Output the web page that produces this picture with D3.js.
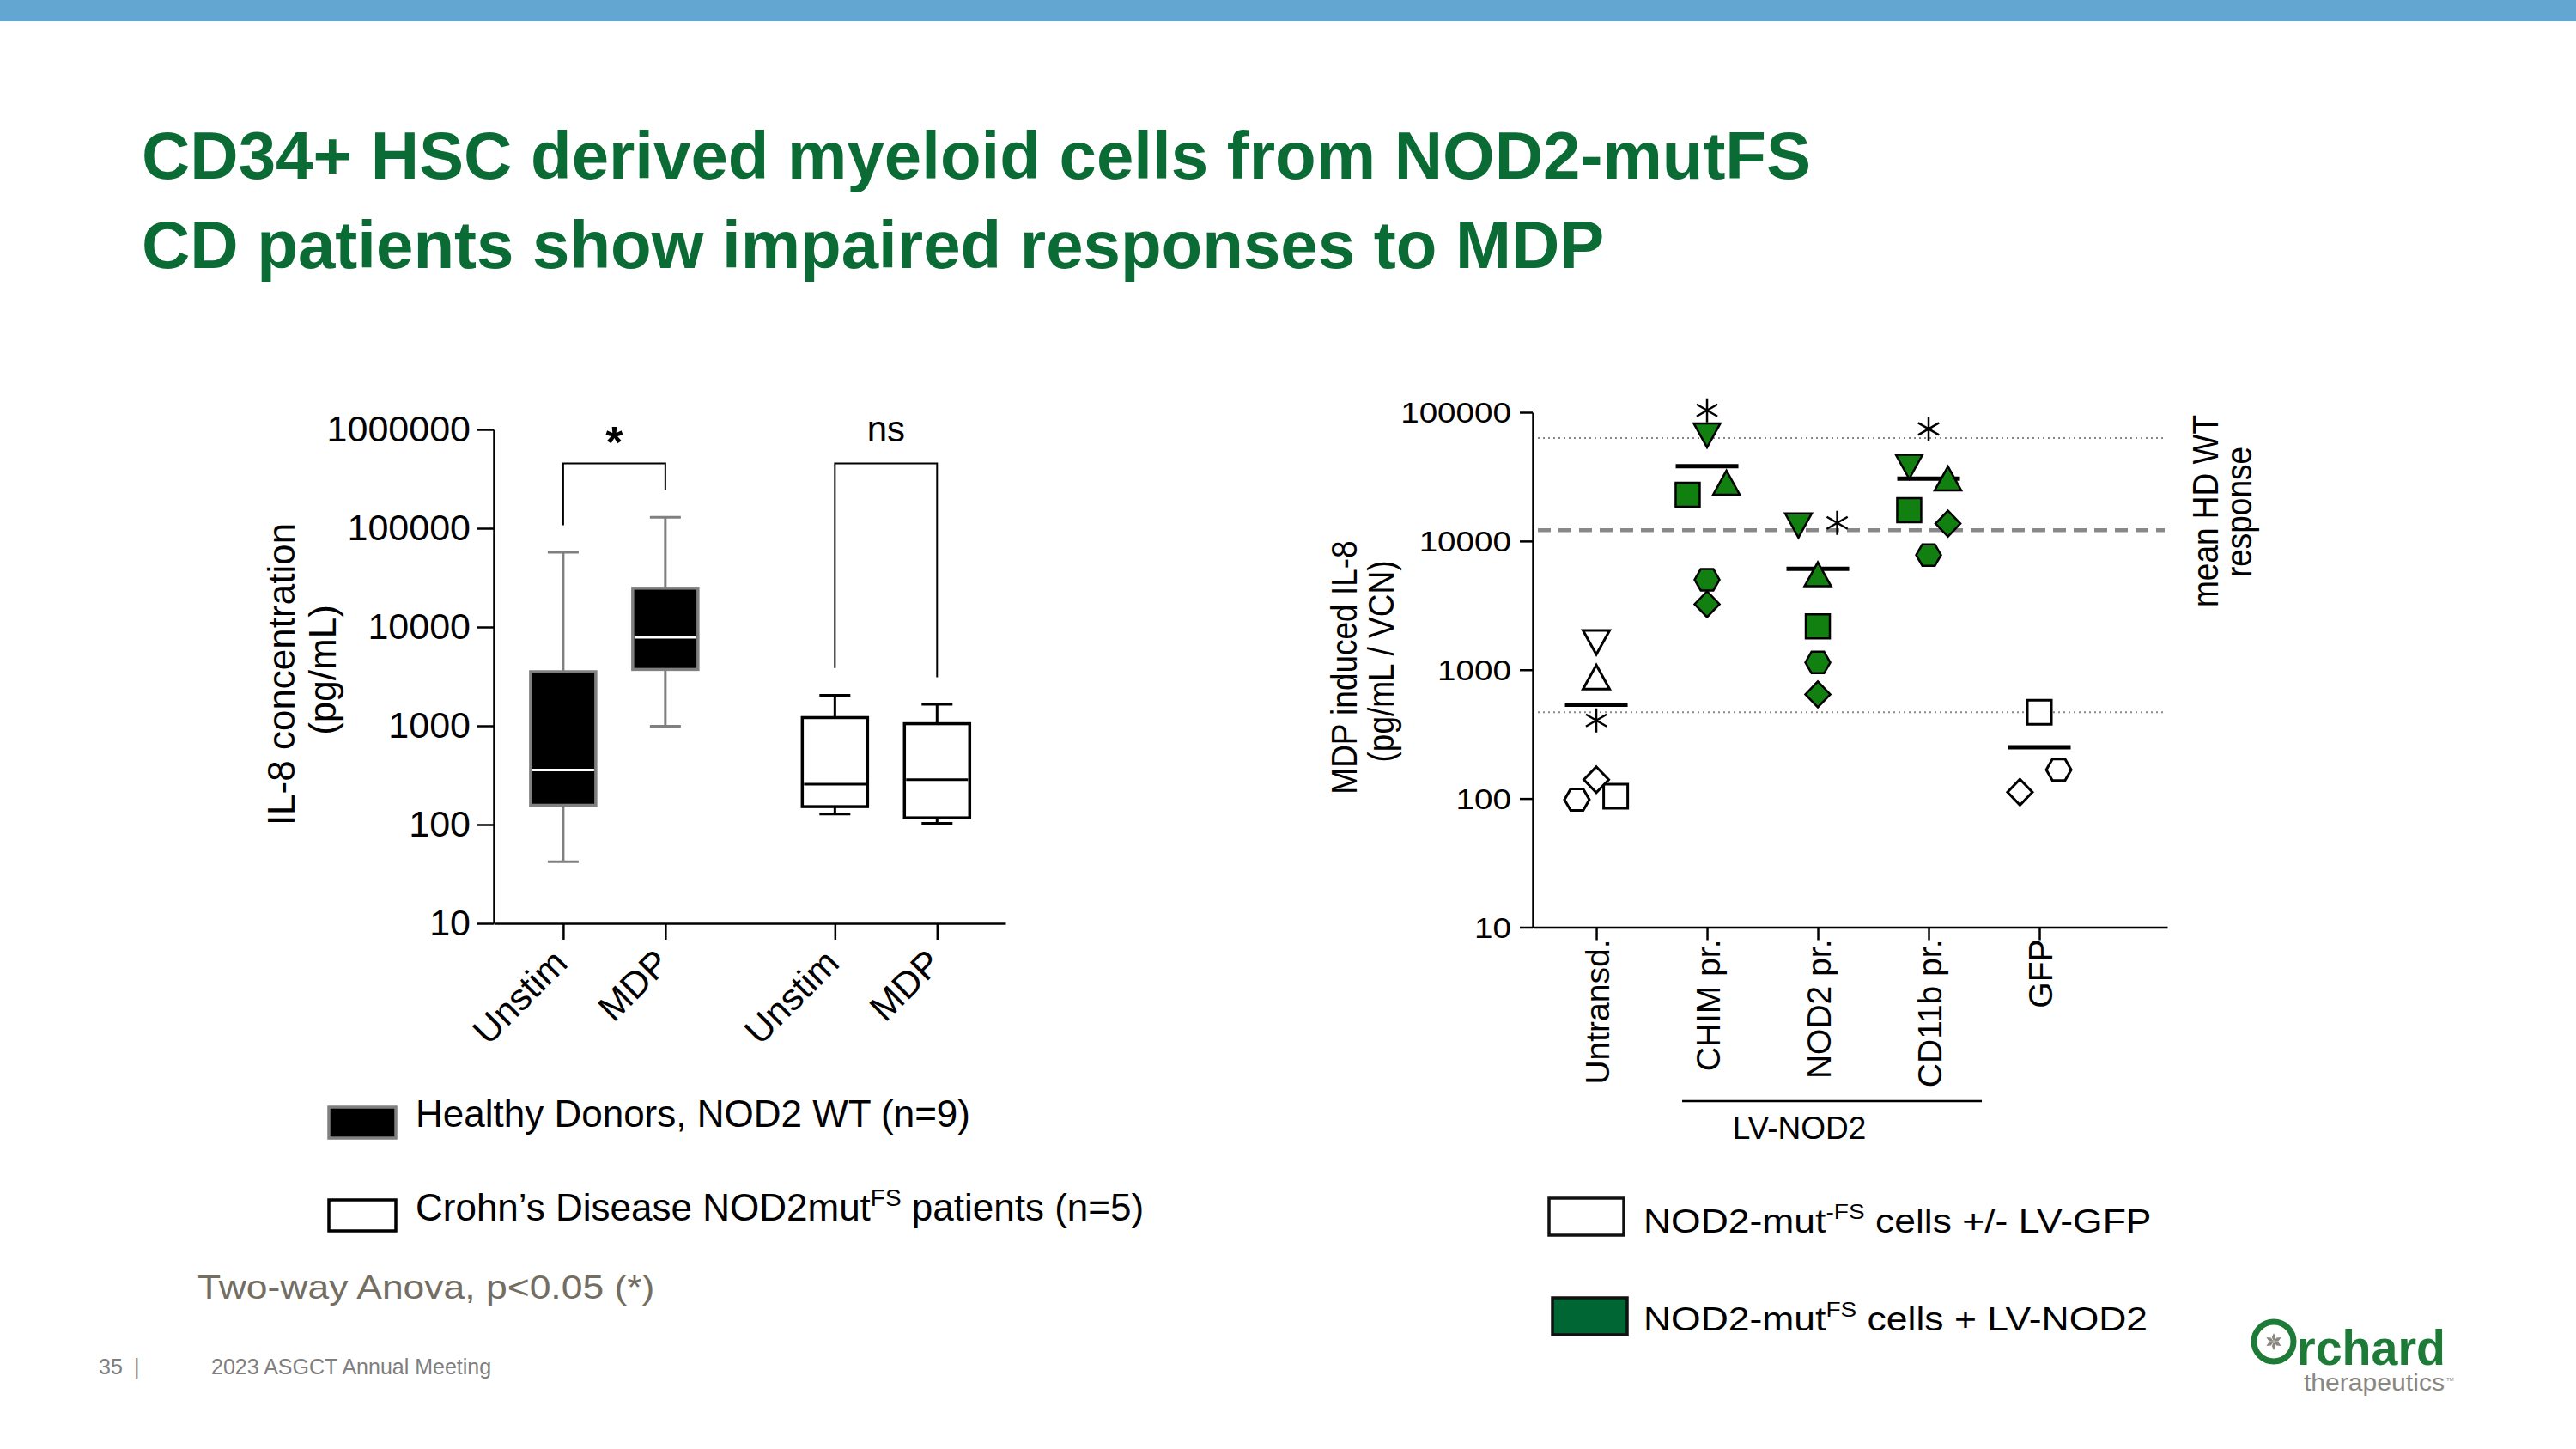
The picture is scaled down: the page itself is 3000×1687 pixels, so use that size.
<!DOCTYPE html>
<html><head><meta charset="utf-8">
<script src="https://cdn.jsdelivr.net/npm/d3@7"></script>
<style>
html,body{margin:0;padding:0;background:#fff}
svg{display:block}
text{font-family:"Liberation Sans",Arial,Helvetica,sans-serif}
</style>
</head><body>
<svg id="c" width="3000" height="1687"></svg>
<script>
// ---------------- DATA ----------------
const titleLines = ["CD34+ HSC derived myeloid cells from NOD2-mutFS", "CD patients show impaired responses to MDP"];

// Left panel: box plots of IL-8 concentration (pg/mL)
const boxGroups = ["Healthy Donors, NOD2 WT (n=9)", "Crohn’s Disease NOD2mut"];
const conditions = ["Unstim", "MDP"];
const boxWhiskerLow  = [[42, 990], [128, 103]];
const boxQ1          = [[157, 3720], [152, 117]];
const boxMedian      = [[356, 7870], [256, 284]];
const boxQ3          = [[3530, 24700], [1210, 1050]];
const boxWhiskerHigh = [[57000, 129000], [2040, 1650]];
const leftTicks = [10, 100, 1000, 10000, 100000, 1000000];
const sigLabels = ["*", "ns"];

// Right panel: MDP induced IL-8 (pg/mL / VCN), one symbol per donor
const rightCategories = ["Untransd.", "CHIM pr.", "NOD2 pr.", "CD11b pr.", "GFP"];
const rightTicks = [10, 100, 1000, 10000, 100000];
const donorSymbols = ["downTriangle", "upTriangle", "square", "hexagon", "diamond", "asterisk"];
const untransdValues = [1630, 877, 104, 98, 140, 404];
const chimValues     = [66100, 28400, 22900, 5000, 3230, 103500];
const nod2Values     = [13200, 5520, 2170, 1138, 644, 13840];
const cd11bValues    = [37700, 30600, 17380, 7780, 13650, 74300];
const gfpValues      = [null, null, 467, 167, 112, null];
// side-by-side column (-1 left, 0 centre, 1 right) of each donor within a category
const untransdColumn = [0, 0, 1, -1, 0, 0];
const chimColumn     = [0, 1, -1, 0, 0, 0];
const nod2Column     = [-1, 0, 0, 0, 0, 1];
const cd11bColumn    = [-1, 1, -1, 0, 1, 0];
const gfpColumn      = [0, 0, 0, 1, -1, 0];
const groupMeans = [535, 38200, 6080, 30500, 250];
const categoryTransduction = ["GFP", "NOD2", "NOD2", "NOD2", "GFP"];
const hdMeanResponse = 12160;
const hdResponseRange = [467, 63100];
const lvNod2Span = ["CHIM pr.", "CD11b pr."];

// ---------------- DRAWING ----------------
const FONT = "Liberation Sans, Arial, Helvetica, sans-serif";
const SX = 1.17; // horizontal stretch of the pasted right-hand figure
const GREEN_PT = "#118011";
const GREEN_LEG = "#006633";
const svg = d3.select("#c");
svg.append("rect").attr("width", 3000).attr("height", 1687).attr("fill", "#fff");
svg.append("rect").attr("x", 0).attr("y", 0).attr("width", 3000).attr("height", 25).attr("fill", "#62a6d1");

svg.append("g").selectAll("text").data(titleLines).join("text")
  .attr("x", 165).attr("y", (d, i) => 208 + i * 104)
  .attr("font-size", 78).attr("font-weight", "bold").attr("fill", "#0b6b35")
  .text(d => d);

function styleAxis(g, fs) {
  g.attr("font-family", FONT).attr("font-size", fs);
  g.selectAll("path,line").attr("stroke", "#000").attr("stroke-width", 2.5);
  g.selectAll("text").attr("fill", "#000");
}

// ---------- Left panel ----------
const yL = d3.scaleLog().domain([10, 1e6]).range([1075, 500]);
const GROUP_GAP = 2.66;
const xL = d3.scaleLinear().domain([-0.68, 4.33]).range([575, 1171]);
const slot = (gi, ci) => gi * GROUP_GAP + ci;
const gL = svg.append("g");

const ayL = gL.append("g").attr("transform", "translate(575,0)")
  .call(d3.axisLeft(yL).tickValues(leftTicks).tickFormat(d3.format("d")).tickSize(19).tickSizeOuter(0).tickPadding(8));
styleAxis(ayL, 43);

const xTickVals = [], xTickLab = [];
boxGroups.forEach((g, gi) => conditions.forEach((c, ci) => { xTickVals.push(slot(gi, ci)); xTickLab.push(c); }));
const axL = gL.append("g").attr("transform", "translate(0,1075)")
  .call(d3.axisBottom(xL).tickValues(xTickVals).tickFormat((d, i) => xTickLab[i]).tickSize(19).tickSizeOuter(0));
styleAxis(axL, 43);
axL.selectAll("text").attr("text-anchor", "end").attr("x", 0).attr("y", 0).attr("dy", "0.35em")
  .attr("transform", "translate(-4,38) rotate(-45)");

// boxes
const boxes = [];
boxGroups.forEach((g, gi) => conditions.forEach((c, ci) => boxes.push({
  gi, ci, lo: boxWhiskerLow[gi][ci], q1: boxQ1[gi][ci], med: boxMedian[gi][ci], q3: boxQ3[gi][ci], hi: boxWhiskerHigh[gi][ci]
})));
const BW = 76, CAP = 18;
const bg = gL.append("g");
boxes.forEach(b => {
  const cx = xL(slot(b.gi, b.ci));
  const stroke = b.gi === 0 ? "#808080" : "#000";
  const fill = b.gi === 0 ? "#000" : "#fff";
  const medC = b.gi === 0 ? "#fff" : "#000";
  const g = bg.append("g");
  g.append("line").attr("x1", cx).attr("x2", cx).attr("y1", yL(b.lo)).attr("y2", yL(b.q1)).attr("stroke", stroke).attr("stroke-width", 3);
  g.append("line").attr("x1", cx).attr("x2", cx).attr("y1", yL(b.q3)).attr("y2", yL(b.hi)).attr("stroke", stroke).attr("stroke-width", 3);
  g.append("line").attr("x1", cx - CAP).attr("x2", cx + CAP).attr("y1", yL(b.lo)).attr("y2", yL(b.lo)).attr("stroke", stroke).attr("stroke-width", 3);
  g.append("line").attr("x1", cx - CAP).attr("x2", cx + CAP).attr("y1", yL(b.hi)).attr("y2", yL(b.hi)).attr("stroke", stroke).attr("stroke-width", 3);
  g.append("rect").attr("x", cx - BW / 2).attr("width", BW).attr("y", yL(b.q3)).attr("height", yL(b.q1) - yL(b.q3))
    .attr("fill", fill).attr("stroke", stroke).attr("stroke-width", 3.5);
  g.append("line").attr("x1", cx - BW / 2 + 2).attr("x2", cx + BW / 2 - 2).attr("y1", yL(b.med)).attr("y2", yL(b.med)).attr("stroke", medC).attr("stroke-width", 3);
});

// significance brackets
const BRACKET_TOP = 454000, LEG_FACTOR = 1.88;
boxGroups.forEach((g, gi) => {
  const x0 = xL(slot(gi, 0)), x1 = xL(slot(gi, 1));
  const yTop = yL(BRACKET_TOP);
  const y0 = yL(boxWhiskerHigh[gi][0] * LEG_FACTOR), y1 = yL(boxWhiskerHigh[gi][1] * LEG_FACTOR);
  gL.append("path").attr("d", `M${x0},${y0}V${yTop}H${x1}V${y1}`).attr("fill", "none").attr("stroke", "#000").attr("stroke-width", 2);
  const lab = sigLabels[gi];
  gL.append("text").attr("x", (x0 + x1) / 2).attr("y", lab === "*" ? 533 : 514)
    .attr("text-anchor", "middle").attr("font-size", lab === "*" ? 52 : 42)
    .attr("font-weight", lab === "*" ? "bold" : "normal").text(lab);
});

// left y title
gL.append("text").attr("transform", "translate(343,785) rotate(-90)").attr("text-anchor", "middle").attr("font-size", 44).text("IL-8 concentration");
gL.append("text").attr("transform", "translate(391,780) rotate(-90)").attr("text-anchor", "middle").attr("font-size", 44).text("(pg/mL)");

// left legend
const legL = svg.append("g");
[{y: 1289, fill: "#000", stroke: "#808080"}, {y: 1397, fill: "#fff", stroke: "#000"}].forEach((s, i) => {
  legL.append("rect").attr("x", 383).attr("y", s.y).attr("width", 78).attr("height", 36).attr("fill", s.fill).attr("stroke", s.stroke).attr("stroke-width", 3.5);
});
legL.append("text").attr("x", 484).attr("y", 1312).attr("font-size", 44).text(boxGroups[0]);
const t2 = legL.append("text").attr("x", 484).attr("y", 1421).attr("font-size", 44);
t2.append("tspan").text(boxGroups[1]);
t2.append("tspan").attr("font-size", 28).attr("dy", -17).text("FS");
t2.append("tspan").attr("dy", 17).text(" patients (n=5)");

svg.append("text").attr("transform", `translate(230,1512) scale(${SX},1)`).attr("font-size", 38).attr("fill", "#736d62").text("Two-way Anova, p<0.05 (*)");

// ---------- Right panel ----------
const yR = d3.scaleLog().domain([10, 1e5]).range([1079.5, 480]);
const xR = d3.scaleLinear().domain([-0.574, 5.155]).range([1785, 2524]);
const gR = svg.append("g");

// reference lines
gR.selectAll("line.range").data(hdResponseRange).join("line").attr("class", "range")
  .attr("x1", 1791).attr("x2", 2521).attr("y1", d => yR(d)).attr("y2", d => yR(d))
  .attr("stroke", "#8a8a8a").attr("stroke-width", 2).attr("stroke-dasharray", "2,4");
gR.append("line").attr("x1", 1791).attr("x2", 2521).attr("y1", yR(hdMeanResponse)).attr("y2", yR(hdMeanResponse))
  .attr("stroke", "#888").attr("stroke-width", 4.5).attr("stroke-dasharray", "15,9");

const ayR = gR.append("g").attr("transform", "translate(1785,0)")
  .call(d3.axisLeft(yR).tickValues(rightTicks).tickFormat(d3.format("d")).tickSize(15).tickSizeOuter(0));
styleAxis(ayR, 33);
ayR.selectAll("text").attr("x", -25 / SX).attr("transform", `scale(${SX},1)`).attr("dy", "0.36em");

const axR = gR.append("g").attr("transform", "translate(0,1079.5)")
  .call(d3.axisBottom(xR).tickValues(d3.range(rightCategories.length)).tickFormat(i => rightCategories[i]).tickSize(15).tickSizeOuter(0));
styleAxis(axR, 39);
axR.selectAll("text").attr("text-anchor", "end").attr("x", -14).attr("y", 0).attr("dy", "0.36em")
  .attr("transform", "rotate(-90)");

// LV-NOD2 bracket
const spanX0 = xR(rightCategories.indexOf(lvNod2Span[0])) - 29;
const spanX1 = xR(rightCategories.indexOf(lvNod2Span[1])) + 62;
gR.append("line").attr("x1", spanX0).attr("x2", spanX1).attr("y1", 1282).attr("y2", 1282).attr("stroke", "#000").attr("stroke-width", 2.5);
gR.append("text").attr("x", (spanX0 + spanX1) / 2 - 38).attr("y", 1326).attr("text-anchor", "middle").attr("font-size", 37).text("LV-NOD2");

// right titles
gR.append("text").attr("transform", `translate(1580,777) scale(${SX},1) rotate(-90)`).attr("text-anchor", "middle").attr("font-size", 37).text("MDP induced IL-8");
gR.append("text").attr("transform", `translate(1623,770) scale(${SX},1) rotate(-90)`).attr("text-anchor", "middle").attr("font-size", 37).text("(pg/mL / VCN)");
gR.append("text").attr("transform", `translate(2583,595) scale(${SX},1) rotate(-90)`).attr("text-anchor", "middle").attr("font-size", 37).text("mean HD WT");
gR.append("text").attr("transform", `translate(2622,596) scale(${SX},1) rotate(-90)`).attr("text-anchor", "middle").attr("font-size", 37).text("response");

// symbols
const symbolPath = {
  square: "M-14,-14H14V14H-14Z",
  upTriangle: "M0,-14L15.5,14H-15.5Z",
  downTriangle: "M-15.5,-14H15.5L0,14Z",
  diamond: "M0,-15L14.5,0L0,15L-14.5,0Z",
  hexagon: "M-14.5,0L-7.3,-12.5H7.3L14.5,0L7.3,12.5H-7.3Z",
  asterisk: "M0,-14V14M-12.1,-7L12.1,7M-12.1,7L12.1,-7"
};
const allValues = [untransdValues, chimValues, nod2Values, cd11bValues, gfpValues];
const allColumns = [untransdColumn, chimColumn, nod2Column, cd11bColumn, gfpColumn];
const DODGE = 0.175, MEAN_HALF = 0.283;
const points = [];
allValues.forEach((vals, ci) => vals.forEach((v, di) => {
  if (v != null) points.push({ci, v, shape: donorSymbols[di], col: allColumns[ci][di]});
}));
// mean bars
gR.selectAll("line.mean").data(groupMeans).join("line").attr("class", "mean")
  .attr("x1", (d, i) => xR(i - MEAN_HALF)).attr("x2", (d, i) => xR(i + MEAN_HALF))
  .attr("y1", d => yR(d)).attr("y2", d => yR(d)).attr("stroke", "#000").attr("stroke-width", 5);
gR.selectAll("path.pt").data(points).join("path").attr("class", "pt")
  .attr("d", d => symbolPath[d.shape])
  .attr("transform", d => `translate(${xR(d.ci + d.col * DODGE)},${yR(d.v)})`)
  .attr("fill", d => d.shape === "asterisk" ? "none" : (categoryTransduction[d.ci] === "NOD2" ? GREEN_PT : "#fff"))
  .attr("stroke", "#000")
  .attr("stroke-width", d => d.shape === "asterisk" ? 2.5 : (categoryTransduction[d.ci] === "NOD2" ? 2.5 : 3))
  .attr("stroke-linejoin", "miter");

// right legend
const legR = svg.append("g");
legR.append("rect").attr("x", 1804).attr("y", 1395).attr("width", 87).attr("height", 43).attr("fill", "#fff").attr("stroke", "#111").attr("stroke-width", 3.5);
legR.append("rect").attr("x", 1808).attr("y", 1511).attr("width", 87).attr("height", 43).attr("fill", GREEN_LEG).attr("stroke", "#111").attr("stroke-width", 3.5);
function legText(y, sup, rest) {
  const t = legR.append("text").attr("transform", `translate(1914,${y}) scale(${SX},1)`).attr("font-size", 38);
  t.append("tspan").text("NOD2-mut");
  t.append("tspan").attr("font-size", 24).attr("dy", -16).text(sup);
  t.append("tspan").attr("dy", 16).text(rest);
}
legText(1435, "-FS", " cells +/- LV-GFP");
legText(1549, "FS", " cells + LV-NOD2");

// footer
svg.append("text").attr("x", 115).attr("y", 1600).attr("font-size", 25).attr("fill", "#7f7f7f").text("35");
svg.append("text").attr("x", 156).attr("y", 1600).attr("font-size", 25).attr("fill", "#7f7f7f").text("|");
svg.append("text").attr("x", 246).attr("y", 1600).attr("font-size", 25).attr("fill", "#7f7f7f").text("2023 ASGCT Annual Meeting");

// logo
const logo = svg.append("g");
logo.append("circle").attr("cx", 2648).attr("cy", 1562).attr("r", 23).attr("fill", "none").attr("stroke", "#1d7a37").attr("stroke-width", 7);
[0, 60, 120, 180, 240, 300].forEach(a => {
  logo.append("path").attr("d", "M0,0L-2.2,-5L0,-10L2.2,-5Z").attr("fill", "#8a8680")
    .attr("transform", `translate(2648,1562) rotate(${a})`);
});
logo.append("text").attr("x", 2675).attr("y", 1589).attr("font-family", "Open Sans, Lato, sans-serif").attr("font-weight", 600)
  .attr("font-size", 58).attr("fill", "#1d7a37").attr("textLength", 173).attr("lengthAdjust", "spacingAndGlyphs").text("rchard");
logo.append("text").attr("x", 2683).attr("y", 1619).attr("font-family", "Open Sans, Lato, sans-serif")
  .attr("font-size", 27).attr("fill", "#8a8680").attr("textLength", 164).attr("lengthAdjust", "spacingAndGlyphs").text("therapeutics");
logo.append("text").attr("x", 2849).attr("y", 1608).attr("font-size", 6).attr("fill", "#8a8680").text("TM");
</script>
</body></html>
